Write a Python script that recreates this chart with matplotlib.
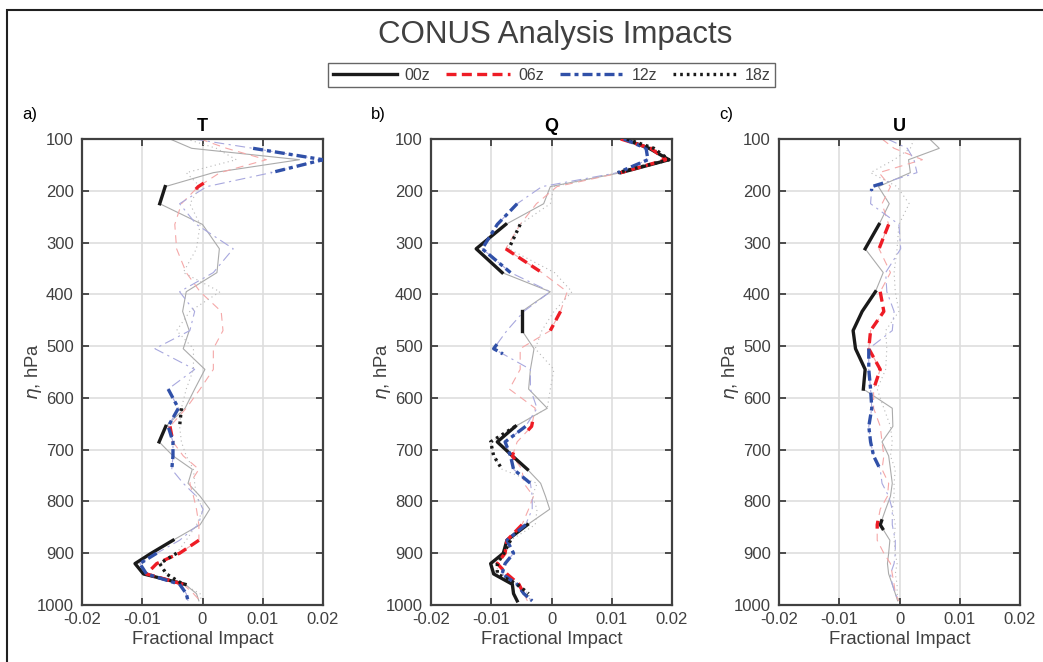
import numpy as np
import matplotlib
matplotlib.use("Agg")
import matplotlib.pyplot as plt
from matplotlib.lines import Line2D
from matplotlib.patches import Rectangle

plt.rcParams['font.family'] = ['Liberation Sans', 'DejaVu Sans']

# model levels (hPa)
levels = [100, 118, 140, 165, 192, 225, 265, 312, 358, 395, 433, 470, 505, 545, 583,
          620, 655, 685, 712, 738, 765, 790, 815, 845, 875, 900, 920, 940, 960, 978, 992]

hours = ['00z', '06z', '12z', '18z']

# ---- T ----
t_00 = [-0.0054, -0.0018, 0.0161, 0.0018, -0.0062, -0.0071, 0.0, 0.0028, 0.0024, -0.0027, -0.0033,
        -0.0022, -0.0032, 0.0004, -0.0013, -0.0029, -0.0061, -0.0072, -0.0049, -0.0017, -0.0024,
        -0.0004, 0.0012, -0.0004, -0.0049, -0.0085, -0.0112, -0.0098, -0.0029, -0.0010, -0.0006]
t_06 = [-0.0004, 0.0040, 0.0106, 0.0029, -0.0007, -0.0035, -0.0046, -0.0043, -0.0027, -0.0004, 0.0031,
        0.0034, 0.0018, 0.0018, -0.0004, -0.0027, -0.0054, -0.0049, -0.0032, -0.0006, -0.0021,
        -0.0015, -0.0010, -0.0006, -0.0006, -0.0038, -0.0076, -0.0093, -0.0032, -0.0015, -0.0004]
t_12 = [-0.0015, 0.0084, 0.0200, 0.0114, 0.0007, -0.0038, -0.0010, 0.0051, 0.0018, -0.0038, -0.0013,
        -0.0021, -0.0079, -0.0013, -0.0057, -0.0040, -0.0057, -0.0049, -0.0049, -0.0051, -0.0032,
        -0.0010, 0.0001, -0.0007, -0.0038, -0.0076, -0.0104, -0.0093, -0.0038, -0.0027, -0.0024]
t_18 = [-0.0027, 0.0023, 0.0056, -0.0027, -0.0004, -0.0021, -0.0004, -0.0010, -0.0032, 0.0029, -0.0021,
        -0.0043, -0.0015, -0.0015, -0.0027, -0.0035, -0.0038, -0.0035, -0.0027, -0.0015, -0.0013,
        -0.0010, 0.0001, -0.0010, -0.0027, -0.0043, -0.0071, -0.0060, -0.0032, -0.0004, -0.0002]
t_sig = [[192, 225, 655, 685, 875, 900, 920, 940, 960],
         [192, 655, 685, 875, 900, 920, 940, 960],
         [118, 140, 165, 583, 620, 655, 685, 712, 738, 900, 920, 940, 960, 978, 992],
         [620, 655, 900, 920, 940, 960]]

# ---- Q ----
q_00 = [0.0120, 0.0162, 0.0195, 0.0115, -0.0002, -0.0013, -0.0076, -0.0125, -0.0082, -0.0002, -0.0049,
        -0.0049, -0.0029, -0.0035, -0.0038, -0.0007, -0.0060, -0.0090, -0.0065, -0.0040, -0.0018,
        -0.0010, -0.0003, -0.0040, -0.0074, -0.0080, -0.0101, -0.0096, -0.0065, -0.0063, -0.0057]
q_06 = [0.0115, 0.0165, 0.0190, 0.0115, 0.0009, -0.0025, -0.0052, -0.0076, -0.0016, 0.0026, 0.0015,
        -0.0002, -0.0052, -0.0052, -0.0070, -0.0027, -0.0033, -0.0057, -0.0065, -0.0049, -0.0046,
        -0.0030, -0.0038, -0.0049, -0.0074, -0.0077, -0.0090, -0.0074, -0.0054, -0.0046, -0.0040]
q_12 = [0.0120, 0.0157, 0.0160, 0.0110, -0.0016, -0.0057, -0.0090, -0.0115, -0.0068, -0.0002, -0.0046,
        -0.0074, -0.0096, -0.0035, -0.0035, -0.0024, -0.0043, -0.0077, -0.0068, -0.0063, -0.0035,
        -0.0032, -0.0032, -0.0043, -0.0074, -0.0063, -0.0077, -0.0082, -0.0057, -0.0046, -0.0032]
q_18 = [0.0125, 0.0170, 0.0195, 0.0110, 0.0004, -0.0002, -0.0052, -0.0071, 0.0005, 0.0034, 0.0004,
        -0.0016, -0.0027, 0.0004, -0.0002, -0.0007, -0.0060, -0.0101, -0.0096, -0.0082, -0.0024,
        -0.0032, -0.0024, -0.0027, -0.0068, -0.0079, -0.0090, -0.0090, -0.0057, -0.0038, -0.0035]
q_sig = [[100, 118, 140, 165, 265, 312, 358, 433, 470, 655, 685, 712, 738, 845, 875, 900, 920, 940, 960, 978, 992],
         [100, 118, 140, 165, 312, 358, 433, 470, 655, 712, 845, 875, 900, 920, 940, 960, 978],
         [100, 118, 140, 165, 225, 265, 312, 358, 505, 655, 685, 712, 738, 765, 845, 875, 900, 920, 940, 960, 978, 992],
         [100, 118, 140, 165, 265, 312, 655, 685, 712, 738, 875, 900, 920, 940, 960, 978]]

# ---- U ----
u_00 = [0.0050, 0.0066, 0.0015, 0.0018, -0.0035, -0.0017, -0.0034, -0.0057, -0.0027, -0.0040, -0.0062,
        -0.0077, -0.0073, -0.0057, -0.0060, -0.0012, -0.0011, -0.0029, -0.0018, -0.0015, -0.0012,
        -0.0015, -0.0023, -0.0032, -0.0016, -0.0018, -0.0020, -0.0018, -0.0012, -0.0007, -0.0003]
u_06 = [-0.0029, -0.0009, 0.0038, -0.0034, -0.0015, -0.0029, -0.0018, -0.0034, -0.0015, -0.0032, -0.0026,
        -0.0048, -0.0051, -0.0032, -0.0043, -0.0043, -0.0032, -0.0029, -0.0026, -0.0029, -0.0018,
        -0.0020, -0.0032, -0.0037, -0.0037, -0.0026, -0.0015, -0.0012, -0.0009, -0.0007, -0.0001]
u_12 = [-0.0020, 0.0013, 0.0024, 0.0029, -0.0046, -0.0048, -0.0001, 0.0002, -0.0023, -0.0021, -0.0009,
        -0.0012, -0.0051, -0.0051, -0.0048, -0.0046, -0.0051, -0.0048, -0.0043, -0.0032, -0.0029,
        -0.0018, -0.0012, -0.0012, -0.0007, -0.0007, -0.0009, -0.0015, -0.0012, -0.0007, -0.0001]
u_18 = [0.0024, 0.0018, -0.0009, -0.0048, -0.0004, 0.0016, -0.0001, -0.0004, -0.0009, -0.0007, -0.0001,
        -0.0023, -0.0021, -0.0023, -0.0037, -0.0026, -0.0015, -0.0012, -0.0015, -0.0007, -0.0009,
        -0.0009, -0.0012, -0.0007, -0.0009, -0.0007, -0.0004, -0.0007, -0.0004, -0.0004, -0.0001]
u_sig = [[265, 312, 395, 433, 470, 505, 545, 583, 845],
         [265, 312, 395, 433, 470, 505, 545, 583, 845],
         [192, 505, 545, 583, 620, 655, 685, 712, 738],
         []]

panels = [('a)', 'T', [t_00, t_06, t_12, t_18], t_sig),
          ('b)', 'Q', [q_00, q_06, q_12, q_18], q_sig),
          ('c)', 'U', [u_00, u_06, u_12, u_18], u_sig)]

faint = [dict(color='#ababab', ls='-'),
         dict(color='#f5a8a8', ls=(0, (7, 5))),
         dict(color='#a8a8de', ls=(0, (9, 4, 2, 4))),
         dict(color='#b8b8b8', ls=(0, (1, 3)))]
bold = [dict(color='#1a1a1a', ls='-'),
        dict(color='#ee1c25', ls=(0, (3, 1.6))),
        dict(color='#3050a8', ls=(0, (3, 1.2, 1.2, 1.2))),
        dict(color='#1a1a1a', ls=(0, (0.8, 1.2)))]


def bold_runs(vals, sig):
    p = np.array(levels, float)
    v = np.array(vals, float)
    idx = [levels.index(s) for s in sig]
    runs = []
    for i in idx:
        if runs and runs[-1][-1] == i - 1:
            runs[-1].append(i)
        else:
            runs.append([i])
    out = []
    for r in runs:
        xs = list(v[r])
        ys = list(p[r])
        i0, i1 = r[0], r[-1]
        if len(r) == 1:
            if i0 > 0:
                xs.insert(0, v[i0] + 0.25 * (v[i0 - 1] - v[i0]))
                ys.insert(0, p[i0] + 0.25 * (p[i0 - 1] - p[i0]))
            if i1 < len(p) - 1:
                xs.append(v[i1] + 0.25 * (v[i1 + 1] - v[i1]))
                ys.append(p[i1] + 0.25 * (p[i1 + 1] - p[i1]))
        out.append((xs, ys))
    return out


fig = plt.figure(figsize=(10.43, 6.62), dpi=100)
fig.patches.append(Rectangle((7 / 1043, -0.1), 1.2, 1.1 - 10 / 662, transform=fig.transFigure,
                             fill=False, edgecolor='#202020', lw=1.5, zorder=0))

lefts = [82, 431, 779]
for k, (lab, name, series, sig) in enumerate(panels):
    ax = fig.add_axes([lefts[k] / 1043, 1 - 605 / 662, 241 / 1043, 466 / 662])
    for j in range(4):
        ax.plot(series[j], levels, lw=0.8, zorder=2, **faint[j])
    for j in range(4):
        for xs, ys in bold_runs(series[j], sig[j]):
            ax.plot(xs, ys, lw=2.4, zorder=3, **bold[j])
    ax.set_xlim(-0.02, 0.02)
    ax.set_ylim(1000, 100)
    ax.set_xticks([-0.02, -0.01, 0, 0.01, 0.02])
    ax.set_xticklabels(['-0.02', '-0.01', '0', '0.01', '0.02'])
    ax.set_yticks(range(100, 1001, 100))
    ax.grid(True, color='#dedede', lw=1.2, zorder=0)
    ax.set_axisbelow(True)
    ax.tick_params(direction='in', length=5, width=1.3, colors='#404040', labelsize=12,
                   top=True, right=True, labelcolor='#404040')
    ax.tick_params(axis='y', pad=6)
    ax.tick_params(axis='x', pad=5)
    for s in ax.spines.values():
        s.set_color('#404040')
        s.set_linewidth(1.6)
    ax.set_xlabel('Fractional Impact', fontsize=13.3, color='#404040', labelpad=3)
    ax.set_ylabel(r'$\eta$, hPa', fontsize=13.3, color='#404040', labelpad=-5)
    ax.set_title(name, fontsize=13, fontweight='bold', pad=6)
    fig.text((lefts[k] - 60) / 1043, 1 - 115 / 662, lab, fontsize=12, ha='left', va='center')

fig.text(0.532, 1 - 35 / 662, 'CONUS Analysis Impacts', fontsize=22.5, color='#404040',
         ha='center', va='center')

handles = [Line2D([], [], lw=2.4, **bold[j]) for j in range(4)]
leg = fig.legend(handles, hours, loc='center', bbox_to_anchor=(0.529, 1 - 75 / 662), ncol=4,
                 frameon=True, fancybox=False, edgecolor='#404040', fontsize=11.5,
                 handlelength=4.0, columnspacing=1.0, handletextpad=0.5, borderpad=0.3)
leg.get_frame().set_linewidth(1.0)
for t in leg.get_texts():
    t.set_color('#404040')

fig.savefig('out.png', dpi=100)
